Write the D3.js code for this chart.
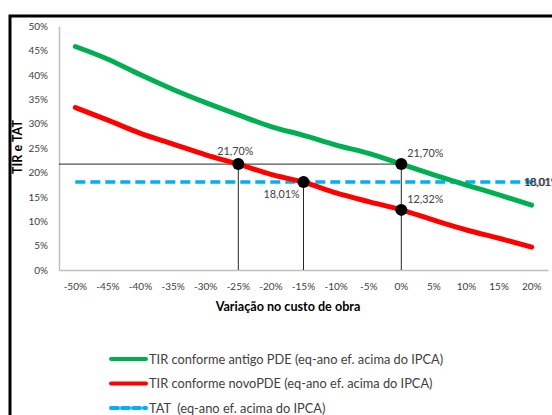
<!DOCTYPE html>
<html>
<head>
<meta charset="utf-8">
<script src="https://cdn.jsdelivr.net/npm/d3@7"></script>
<style>
    body { margin: 0; background: #fff; }
    svg { display: block; font-family: Lato, "Open Sans", sans-serif; }
</style>
</head>
<body>
<div id="chart"></div>
<script>
// Data

var categories = [ '-50%', '-45%', '-40%', '-35%', '-30%', '-25%', '-20%', '-15%',
                   '-10%', '-5%', '0%', '5%', '10%', '15%', '20%' ];

var tirAntigo = [ 45.8, 43.2, 40.0, 37.0, 34.3, 31.8, 29.4, 27.6, 25.6, 23.9, 21.7, 19.5, 17.4, 15.4, 13.3 ];
var tirNovo   = [ 33.3, 30.7, 28.0, 25.8, 23.6, 21.7, 19.6, 18.01, 15.8, 14.0, 12.32, 10.2, 8.2, 6.5, 4.7 ];
var tat       = [ 18.01, 18.01, 18.01, 18.01, 18.01, 18.01, 18.01, 18.01, 18.01, 18.01, 18.01, 18.01, 18.01, 18.01, 18.01 ];

var yTicks = [ 0, 5, 10, 15, 20, 25, 30, 35, 40, 45, 50 ];

// highlighted points: category, value, label text
var marks = [
    { cat: '-25%', v: 21.70, text: '21,70%', pos: 'above' },
    { cat: '-15%', v: 18.01, text: '18,01%', pos: 'belowLeft' },
    { cat: '0%',   v: 21.70, text: '21,70%', pos: 'right' },
    { cat: '0%',   v: 12.32, text: '12,32%', pos: 'right' }
];

var legendItems = [
    { name: 'TIR conforme antigo PDE (eq-ano ef. acima do IPCA)', color: '#00B050', dash: null },
    { name: 'TIR conforme novoPDE (eq-ano ef. acima do IPCA)', color: '#FF0000', dash: null },
    { name: 'TAT\u00a0 (eq-ano ef. acima do IPCA)', color: '#00B0F0', dash: '7,4' }
];

//////////////////////////////////////////

var W = 552, H = 415;

var svg = d3.select( '#chart' )
    .append( 'svg' )
    .attr( 'width', W )
    .attr( 'height', H );

// outer frame (runs off the right and bottom)
svg.append( 'rect' )
    .attr( 'x', 10 ).attr( 'y', 16 )
    .attr( 'width', 700 ).attr( 'height', 600 )
    .attr( 'fill', 'none' )
    .attr( 'stroke', '#000' )
    .attr( 'stroke-width', 3 );

var x = d3.scaleBand()
    .domain( categories )
    .range( [ 59, 548 ] )
    .padding( 0 );

var y = d3.scaleLinear()
    .domain( [ 0, 50 ] )
    .range( [ 270, 26 ] );

var cx = function( c ){ return x( c ) + x.bandwidth() / 2; };

// axes
var yAxis = svg.append( 'g' )
    .attr( 'transform', 'translate(59,0)' )
    .call( d3.axisLeft( y ).tickValues( yTicks ).tickSize( 0 ).tickPadding( 11 )
        .tickFormat( function( d ){ return d + '%'; } ) );

var xAxis = svg.append( 'g' )
    .attr( 'transform', 'translate(0,270)' )
    .call( d3.axisBottom( x ).tickSize( 0 ).tickPadding( 13 ) );

[ yAxis, xAxis ].forEach( function( g ){
    g.select( '.domain' ).attr( 'stroke', '#BFBFBF' ).attr( 'stroke-width', 1.5 );
    g.selectAll( 'text' )
        .attr( 'fill', '#404040' )
        .style( 'font-size', '10px' )
        .style( 'font-family', 'Lato, sans-serif' );
} );

// axis titles
svg.append( 'text' )
    .attr( 'x', 288 ).attr( 'y', 311 )
    .attr( 'text-anchor', 'middle' )
    .style( 'font-size', '12.6px' )
    .style( 'font-weight', 'bold' )
    .attr( 'fill', '#000' )
    .text( 'Variação no custo de obra' );

svg.append( 'text' )
    .attr( 'transform', 'translate(22,147) rotate(-90)' )
    .attr( 'text-anchor', 'middle' )
    .style( 'font-size', '12.6px' )
    .style( 'font-weight', 'bold' )
    .attr( 'fill', '#000' )
    .text( 'TIR e TAT' );

// reference lines to the highlighted points
var refs = svg.append( 'g' )
    .attr( 'stroke', '#262626' )
    .attr( 'stroke-width', 1 );

refs.append( 'line' )
    .attr( 'x1', 59 ).attr( 'x2', cx( '0%' ) )
    .attr( 'y1', y( 21.70 ) ).attr( 'y2', y( 21.70 ) );

marks.forEach( function( m ){
    if ( m.cat === '0%' && m.v < 20 ) return;
    refs.append( 'line' )
        .attr( 'x1', cx( m.cat ) ).attr( 'x2', cx( m.cat ) )
        .attr( 'y1', y( m.v ) ).attr( 'y2', y( 0 ) );
} );

// series
var line = d3.line()
    .x( function( d, i ){ return cx( categories[ i ] ); } )
    .y( function( d ){ return y( d ); } )
    .curve( d3.curveMonotoneX );

svg.append( 'path' )
    .attr( 'd', line( tat ) )
    .attr( 'fill', 'none' )
    .attr( 'stroke', '#00B0F0' )
    .attr( 'stroke-width', 3.5 )
    .attr( 'stroke-dasharray', '10,5' );

[ [ tirAntigo, '#00B050' ], [ tirNovo, '#FF0000' ] ].forEach( function( s ){
    svg.append( 'path' )
        .attr( 'd', line( s[ 0 ] ) )
        .attr( 'fill', 'none' )
        .attr( 'stroke', s[ 1 ] )
        .attr( 'stroke-width', 5 )
        .attr( 'stroke-linecap', 'round' )
        .attr( 'stroke-linejoin', 'round' );
} );

// TAT end label (drawn twice, slightly offset, like the original)
[ 0, 1 ].forEach( function( o ){
    svg.append( 'text' )
        .attr( 'x', cx( '20%' ) - 8 + o ).attr( 'y', y( 18.01 ) + 4 )
        .style( 'font-size', '10.5px' )
        .attr( 'fill', o ? '#404040' : '#1F3864' )
        .text( '18,01%' );
} );

// markers and labels
marks.forEach( function( m ){
    var px = cx( m.cat ), py = y( m.v );
    svg.append( 'circle' )
        .attr( 'cx', px ).attr( 'cy', py )
        .attr( 'r', 6 )
        .attr( 'fill', '#000' );

    var t = svg.append( 'text' )
        .style( 'font-size', '10.8px' )
        .attr( 'fill', '#404040' )
        .text( m.text );
    if ( m.pos === 'above' ) {
        t.attr( 'x', px - 3 ).attr( 'y', py - 9 ).attr( 'text-anchor', 'middle' );
    } else if ( m.pos === 'belowLeft' ) {
        t.attr( 'x', px - 22 ).attr( 'y', py + 16 ).attr( 'text-anchor', 'middle' );
    } else {
        t.attr( 'x', px + 6 ).attr( 'y', py - 7 );
    }
} );

// legend
var legend = svg.append( 'g' );
legendItems.forEach( function( d, i ){
    var ly = 359 + i * 24.5;
    legend.append( 'line' )
        .attr( 'x1', 111 ).attr( 'x2', 146 )
        .attr( 'y1', ly ).attr( 'y2', ly )
        .attr( 'stroke', d.color )
        .attr( 'stroke-width', 4 )
        .attr( 'stroke-linecap', 'round' )
        .attr( 'stroke-dasharray', d.dash );
    legend.append( 'text' )
        .attr( 'x', 149 ).attr( 'y', ly + 4.5 )
        .style( 'font-size', '12.8px' )
        .attr( 'fill', '#404040' )
        .text( d.name );
} );
</script>
</body>
</html>
